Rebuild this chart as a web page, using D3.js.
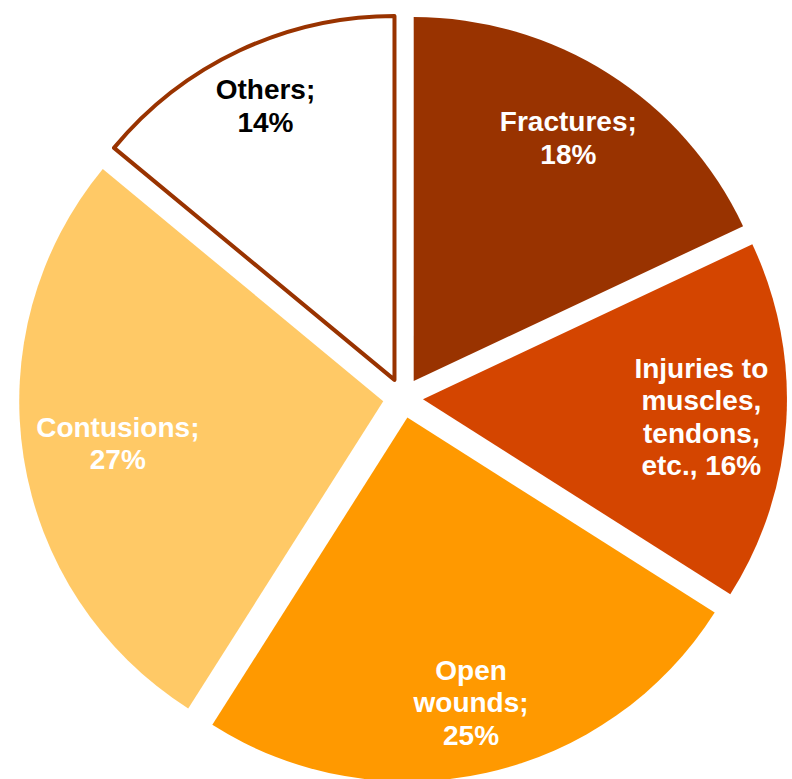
<!DOCTYPE html>
<html>
<head>
<meta charset="utf-8">
<script src="https://cdn.jsdelivr.net/npm/d3@7"></script>
<style>
  html, body { margin: 0; padding: 0; background: #ffffff; }
  svg { display: block; }
  .lbl { font-family: "Liberation Sans", Arial, sans-serif; font-weight: bold; font-size: 28px; }
</style>
</head>
<body>
<svg id="chart" width="792" height="779"></svg>
<script>
// Injury types, share in percent (clockwise from 12 o'clock)
const categories = ["Fractures", "Injuries to muscles, tendons, etc.", "Open wounds", "Contusions", "Others"];
const values = [18, 16, 25, 27, 14];
const labelTemplates = [
  "Fractures;\n{v}%",
  "Injuries to\nmuscles,\ntendons,\netc., {v}%",
  "Open\nwounds;\n{v}%",
  "Contusions;\n{v}%",
  "Others;\n{v}%"
];
const fills = ["#993300", "#D44500", "#FF9900", "#FFC966", "#FFFFFF"];
const strokes = [null, null, null, null, "#993300"];
const labelColors = ["#FFFFFF", "#FFFFFF", "#FFFFFF", "#FFFFFF", "#000000"];

const width = 792, height = 779;
const cx = 403, cy = 398;
const radius = 364;
const explode = 20;
const lineH = 32.5;
const labelPad = 9;

const svg = d3.select("#chart");
const g = svg.append("g").attr("transform", `translate(${cx},${cy})`);

const pie = d3.pie().sort(null).value(d => d.value).startAngle(0).endAngle(2 * Math.PI);
const arc = d3.arc().innerRadius(0).outerRadius(radius);

const data = categories.map((c, i) => ({
  name: c, value: values[i], fill: fills[i], stroke: strokes[i],
  color: labelColors[i],
  label: labelTemplates[i].replace("{v}", values[i])
}));

const arcs = pie(data);

const slices = g.selectAll("g.slice")
  .data(arcs)
  .join("g")
  .attr("class", "slice")
  .attr("transform", d => {
    const a = (d.startAngle + d.endAngle) / 2;
    return `translate(${explode * Math.sin(a)},${-explode * Math.cos(a)})`;
  });

slices.append("path")
  .attr("d", arc)
  .attr("fill", d => d.data.fill)
  .attr("stroke", d => d.data.stroke || "none")
  .attr("stroke-width", d => d.data.stroke ? 4 : 0)
  .attr("stroke-linejoin", "round");

// Labels sit at the inside end of each slice: pushed along the bisector
// until the text box reaches the rim.
slices.each(function(d) {
  const sel = d3.select(this);
  const lines = d.data.label.split("\n");
  const t = sel.append("text")
    .attr("class", "lbl")
    .attr("text-anchor", "middle")
    .attr("fill", d.data.color);
  const spans = lines.map((ln, i) => t.append("tspan").attr("x", 0).text(ln));
  let w = 0;
  spans.forEach(s => { w = Math.max(w, s.node().getComputedTextLength()); });
  const h = lines.length * lineH;
  const a = (d.startAngle + d.endAngle) / 2;
  const ux = Math.sin(a), uy = -Math.cos(a);
  const farCorner = (tt) => {
    const px = tt * ux, py = tt * uy;
    let m = 0;
    [[-1, -1], [-1, 1], [1, -1], [1, 1]].forEach(([sx, sy]) => {
      const x = px + sx * w / 2, y = py + sy * h / 2;
      m = Math.max(m, Math.hypot(x, y));
    });
    return m;
  };
  let lo = 0, hi = radius;
  for (let k = 0; k < 40; k++) {
    const mid = (lo + hi) / 2;
    if (farCorner(mid) > radius - labelPad) hi = mid; else lo = mid;
  }
  const px = lo * ux, py = lo * uy;
  t.attr("transform", `translate(${px},${py})`);
  spans.forEach((s, i) => {
    s.attr("y", (i - (lines.length - 1) / 2) * lineH).attr("dy", "0.35em");
  });
});
</script>
</body>
</html>
